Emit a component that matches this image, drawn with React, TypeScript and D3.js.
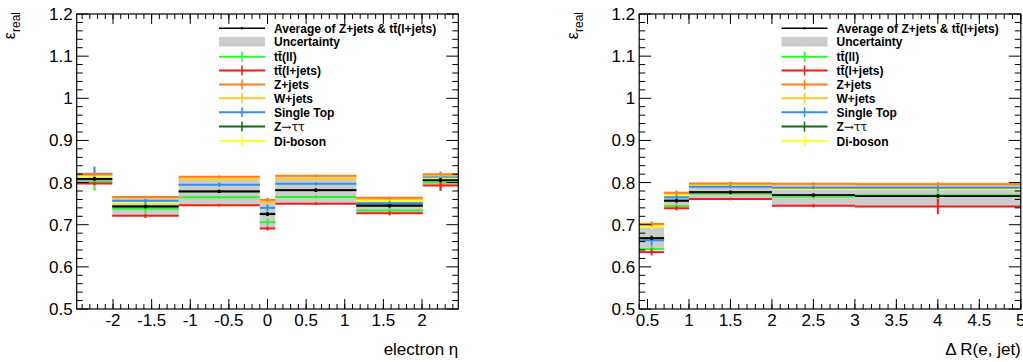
import React from "react";
import * as d3 from "d3";

const FONT = "'Liberation Sans', Arial, Helvetica, sans-serif";

// ---- electron eta panel ----
const etaEdges = [-2.47, -2.01, -1.15, -0.1, 0.1, 1.15, 2.01, 2.47];
const etaAverage = [0.809, 0.743, 0.779, 0.725, 0.782, 0.745, 0.806];
const etaUncLow = [0.797, 0.721, 0.746, 0.69, 0.749, 0.727, 0.793];
const etaUncHigh = [0.822, 0.766, 0.814, 0.759, 0.816, 0.764, 0.82];
const etaTtll = [0.801, 0.738, 0.765, 0.706, 0.766, 0.734, 0.8];
const etaTtllErr = [0.02, 0.01, 0.004, 0.008, 0.004, 0.006, 0.02];
const etaTtlj = [0.798, 0.721, 0.746, 0.691, 0.75, 0.727, 0.793];
const etaTtljErr = [0.004, 0.005, 0.003, 0.005, 0.003, 0.005, 0.012];
const etaZjets = [0.82, 0.766, 0.814, 0.759, 0.816, 0.764, 0.82];
const etaZjetsErr = [0.004, 0.003, 0.003, 0.005, 0.003, 0.003, 0.003];
const etaWjets = [0.818, 0.764, 0.808, 0.754, 0.809, 0.761, 0.817];
const etaWjetsErr = [0.004, 0.003, 0.003, 0.004, 0.003, 0.003, 0.003];
const etaSingleTop = [0.821, 0.757, 0.795, 0.74, 0.797, 0.751, 0.814];
const etaSingleTopErr = [0.017, 0.008, 0.005, 0.008, 0.004, 0.006, 0.012];
const etaZtautau = [0.808, 0.744, 0.779, 0.726, 0.782, 0.746, 0.805];
const etaZtautauErr = [0.004, 0.004, 0.003, 0.004, 0.003, 0.003, 0.004];
const etaDiboson = [0.815, 0.753, 0.808, 0.755, 0.809, 0.757, 0.809];
const etaDibosonErr = [0.004, 0.004, 0.003, 0.004, 0.003, 0.003, 0.004];

// ---- delta R panel ----
const drEdges = [0.4, 0.7, 1.0, 2.0, 3.0, 5.0];
const drAverage = [0.668, 0.757, 0.777, 0.77, 0.768];
const drUncLow = [0.64, 0.741, 0.761, 0.745, 0.743];
const drUncHigh = [0.695, 0.774, 0.797, 0.797, 0.796];
const drTtll = [0.642, 0.744, 0.774, 0.767, 0.77];
const drTtllErr = [0.008, 0.006, 0.004, 0.005, 0.012];
const drTtlj = [0.635, 0.739, 0.761, 0.745, 0.743];
const drTtljErr = [0.008, 0.005, 0.003, 0.004, 0.018];
const drZjets = [0.702, 0.776, 0.798, 0.797, 0.796];
const drZjetsErr = [0.006, 0.005, 0.004, 0.004, 0.004];
const drWjets = [0.7, 0.774, 0.797, 0.796, 0.797];
const drWjetsErr = [0.005, 0.004, 0.003, 0.003, 0.004];
const drSingleTop = [0.663, 0.765, 0.79, 0.788, 0.788];
const drSingleTopErr = [0.012, 0.006, 0.004, 0.004, 0.008];
const drZtautau = [0.668, 0.757, 0.777, 0.77, 0.768];
const drZtautauErr = [0.005, 0.004, 0.003, 0.003, 0.005];
const drDiboson = [0.695, 0.77, 0.795, 0.785, 0.785];
const drDibosonErr = [0.006, 0.004, 0.003, 0.004, 0.005];

const seriesNames = ["tt\u0304(ll)", "tt\u0304(l+jets)", "Z+jets", "W+jets", "Single Top", "Z\u2192\u03c4\u03c4", "Di-boson"];
const seriesColors = ["#2cf52c", "#ff1a1a", "#ff7f1e", "#ffc82e", "#2f8ff0", "#186818", "#ffff2a"];

type Series = { values: number[]; errs: number[] };

const etaSeries: Series[] = [
  { values: etaTtll, errs: etaTtllErr },
  { values: etaTtlj, errs: etaTtljErr },
  { values: etaZjets, errs: etaZjetsErr },
  { values: etaWjets, errs: etaWjetsErr },
  { values: etaSingleTop, errs: etaSingleTopErr },
  { values: etaZtautau, errs: etaZtautauErr },
  { values: etaDiboson, errs: etaDibosonErr },
];
const drSeries: Series[] = [
  { values: drTtll, errs: drTtllErr },
  { values: drTtlj, errs: drTtljErr },
  { values: drZjets, errs: drZjetsErr },
  { values: drWjets, errs: drWjetsErr },
  { values: drSingleTop, errs: drSingleTopErr },
  { values: drZtautau, errs: drZtautauErr },
  { values: drDiboson, errs: drDibosonErr },
];
// draw order so that the stacking looks like the original
const drawOrder = [5, 0, 1, 6, 4, 3, 2];

const fmt = (v: number) => String(+v.toFixed(2));

function Panel(props: {
  ox: number;
  edges: number[];
  avg: number[];
  lo: number[];
  hi: number[];
  series: Series[];
  xDomain: [number, number];
  xMajor: number[];
  xMinor: number[];
  xTitle: string;
}) {
  const { ox, edges, avg, lo, hi, series, xDomain, xMajor, xMinor, xTitle } = props;
  const left = ox + 76.7, right = ox + 458.3, top = 14, bottom = 309;
  const x = d3.scaleLinear().domain(xDomain).range([left, right]);
  const y = d3.scaleLinear().domain([0.5, 1.2]).range([bottom, top]);
  const bins = d3.range(edges.length - 1);
  const yMajor = d3.range(0.5, 1.2001, 0.1);
  const yMinor = d3.range(0.5, 1.2001, 0.02);

  const legX0 = ox + 219, legX1 = ox + 265, legText = ox + 274;
  const legRows = [28.3, 41.7, 56.7, 70.5, 84.4, 98.3, 112.3, 126.6, 141];

  return (
    <g>
      {/* uncertainty band */}
      {bins.map((i) => (
        <rect key={"b" + i} x={x(edges[i])} y={y(hi[i])} width={x(edges[i + 1]) - x(edges[i])}
          height={y(lo[i]) - y(hi[i])} fill="#cccccc" />
      ))}
      {/* samples */}
      {drawOrder.map((s) => (
        <g key={"s" + s} stroke={seriesColors[s]} strokeWidth={2}>
          {bins.map((i) => {
            const c = (edges[i] + edges[i + 1]) / 2;
            const v = series[s].values[i], e = series[s].errs[i];
            return (
              <g key={i}>
                <line x1={x(edges[i])} x2={x(edges[i + 1])} y1={y(v)} y2={y(v)} />
                <line x1={x(c)} x2={x(c)} y1={y(v - e)} y2={y(v + e)} />
              </g>
            );
          })}
        </g>
      ))}
      {/* average */}
      <g stroke="#000" strokeWidth={1.8}>
        {bins.map((i) => {
          const c = (edges[i] + edges[i + 1]) / 2;
          return (
            <g key={"a" + i}>
              <line x1={x(edges[i])} x2={x(edges[i + 1])} y1={y(avg[i])} y2={y(avg[i])} />
              <line x1={x(c)} x2={x(c)} y1={y(avg[i] - 0.004)} y2={y(avg[i] + 0.004)} />
              <rect x={x(c) - 1.5} y={y(avg[i]) - 1.5} width={3} height={3} fill="#000" strokeWidth={0} />
            </g>
          );
        })}
      </g>

      {/* frame */}
      <rect x={left} y={top} width={right - left} height={bottom - top} fill="none" stroke="#000" strokeWidth={1.2} />
      <g stroke="#000" strokeWidth={1}>
        {yMinor.map((v, i) => {
          const major = i % 5 === 0;
          const len = major ? 12 : 6;
          return (
            <g key={"yt" + i}>
              <line x1={left} x2={left + len} y1={y(v)} y2={y(v)} />
              <line x1={right} x2={right - len} y1={y(v)} y2={y(v)} />
            </g>
          );
        })}
        {xMinor.map((v, i) => (
          <g key={"xm" + i}>
            <line x1={x(v)} x2={x(v)} y1={bottom} y2={bottom - 5} />
            <line x1={x(v)} x2={x(v)} y1={top} y2={top + 5} />
          </g>
        ))}
        {xMajor.map((v, i) => (
          <g key={"xM" + i}>
            <line x1={x(v)} x2={x(v)} y1={bottom} y2={bottom - 10} />
            <line x1={x(v)} x2={x(v)} y1={top} y2={top + 10} />
          </g>
        ))}
      </g>
      <g fontFamily={FONT} fontSize={17} fill="#000">
        {yMajor.map((v, i) => (
          <text key={"yl" + i} x={left - 4} y={y(v) + 6} textAnchor="end">{fmt(v)}</text>
        ))}
        {xMajor.map((v, i) => (
          <text key={"xl" + i} x={x(v)} y={326} textAnchor="middle">{fmt(v)}</text>
        ))}
        <text x={right} y={355} textAnchor="end">{xTitle}</text>
      </g>
      {/* y title */}
      <text transform={`translate(${ox + 15},12) rotate(-90)`} textAnchor="end" fontFamily={FONT} fill="#000">
        <tspan fontSize={16}>{"\u03b5"}</tspan>
        <tspan fontSize={12} dy={5}>real</tspan>
      </text>

      {/* legend */}
      <g fontFamily={FONT} fontSize={12} fontWeight="bold" fill="#000">
        <line x1={legX0} x2={legX1} y1={legRows[0]} y2={legRows[0]} stroke="#000" strokeWidth={1.5} />
        <rect x={(legX0 + legX1) / 2 - 1} y={legRows[0] - 1} width={2} height={2} fill="#000" />
        <text x={legText} y={legRows[0] + 4.5}>Average of Z+jets &amp; t{"t\u0304"}(l+jets)</text>
        <rect x={legX0} y={legRows[1] - 4.8} width={legX1 - legX0} height={9.6} fill="#cccccc" />
        <text x={legText} y={legRows[1] + 4.5}>Uncertainty</text>
        {seriesNames.map((n, s) => {
          const ry = legRows[s + 2];
          const cx = (legX0 + legX1) / 2;
          return (
            <g key={"l" + s}>
              <line x1={legX0} x2={legX1} y1={ry} y2={ry} stroke={seriesColors[s]} strokeWidth={2} />
              <line x1={cx} x2={cx} y1={ry - 5} y2={ry + 5} stroke={seriesColors[s]} strokeWidth={1.5} />
              {s === 5 ? (
                <text x={legText} y={ry + 4.5}>Z<tspan fontWeight="normal" fontFamily="'DejaVu Serif', serif" fontSize={12}>{"\u2192\u03c4\u03c4"}</tspan></text>
              ) : (
                <text x={legText} y={ry + 4.5}>{n}</text>
              )}
            </g>
          );
        })}
      </g>
    </g>
  );
}

export default function App() {
  const etaMajor = d3.range(-2, 2.001, 0.5);
  const etaMinor = d3.range(-24, 25).map((k) => k / 10);
  const drMajor = d3.range(0.5, 5.001, 0.5);
  const drMinor = d3.range(4, 51).map((k) => k / 10);
  return (
    <svg width={1023} height={362} style={{ position: "absolute", left: 0, top: 0, background: "#fff" }}>
      <rect width={1023} height={362} fill="#fff" />
      <Panel ox={0} edges={etaEdges} avg={etaAverage} lo={etaUncLow} hi={etaUncHigh} series={etaSeries}
        xDomain={[-2.47, 2.47]} xMajor={etaMajor} xMinor={etaMinor} xTitle={"electron \u03b7"} />
      <Panel ox={562.5} edges={drEdges} avg={drAverage} lo={drUncLow} hi={drUncHigh} series={drSeries}
        xDomain={[0.4, 5.0]} xMajor={drMajor} xMinor={drMinor} xTitle={"\u0394 R(e, jet)"} />
    </svg>
  );
}
